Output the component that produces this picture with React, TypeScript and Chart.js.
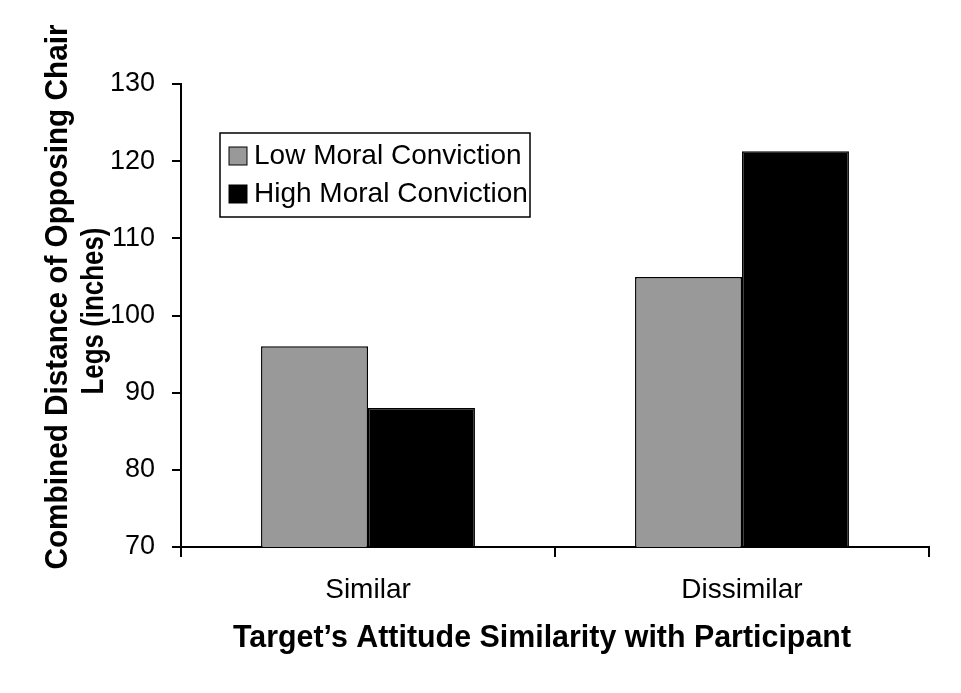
import React, { useEffect, useRef } from "react";
import { Chart, registerables } from "chart.js";

Chart.register(...registerables);

const categories = ["Similar", "Dissimilar"];
const seriesLabels = ["Low Moral Conviction", "High Moral Conviction"];
const lowMoral = [96, 105];
const highMoral = [88, 121.3];
const seriesColors = ["#999999", "#000000"];
const yTitleLines = ["Combined Distance of Opposing Chair", "Legs (inches)"];
const xTitle = "Target\u2019s Attitude Similarity with Participant";
const yMin = 70;
const yMax = 130;
const yStep = 10;

const FAMILY = "'Liberation Sans', Arial, Helvetica, sans-serif";

const overlayPlugin = {
  id: "overlay",
  afterDraw(chart: any) {
    const ctx = chart.ctx as CanvasRenderingContext2D;
    const area = chart.chartArea;
    ctx.save();
    ctx.fillStyle = "#000";
    ctx.font = `bold 32px ${FAMILY}`;
    ctx.textAlign = "center";
    ctx.textBaseline = "middle";
    // Y axis title (two lines, rotated, condensed)
    const yCenters = [297, 311];
    const xs = [58, 94];
    const widths = [545, 167];
    yTitleLines.forEach((line, i) => {
      ctx.save();
      ctx.translate(xs[i], yCenters[i]);
      ctx.rotate(-Math.PI / 2);
      ctx.fillText(line, 0, 0, widths[i]);
      ctx.restore();
    });
    // X axis title
    ctx.font = `bold 31px ${FAMILY}`;
    ctx.fillText(xTitle, 542, 638, 618);
    // Legend box
    const bx = area.left + 39;
    const by = area.top + 49;
    const bw = 310;
    const bh = 84;
    ctx.lineWidth = 1.5;
    ctx.strokeStyle = "#000";
    ctx.fillStyle = "#fff";
    ctx.fillRect(bx, by, bw, bh);
    ctx.strokeRect(bx, by, bw, bh);
    ctx.font = `28px ${FAMILY}`;
    ctx.textAlign = "left";
    chart.data.datasets.forEach((ds: any, i: number) => {
      const rowY = by + 23 + i * 38;
      ctx.fillStyle = ds.backgroundColor;
      ctx.fillRect(bx + 9, rowY - 9, 18, 18);
      ctx.lineWidth = 1;
      ctx.strokeRect(bx + 9, rowY - 9, 18, 18);
      ctx.fillStyle = "#000";
      ctx.fillText(ds.label, bx + 34, rowY);
    });
    ctx.restore();
  },
};

export default function App() {
  const ref = useRef<HTMLCanvasElement | null>(null);
  useEffect(() => {
    document.body.style.margin = "0";
    const canvas = ref.current;
    if (!canvas) return;
    Chart.defaults.font.family = FAMILY;
    Chart.defaults.color = "#000";
    const chart = new Chart(canvas, {
      type: "bar",
      data: {
        labels: categories,
        datasets: [
          {
            label: seriesLabels[0],
            data: lowMoral,
            backgroundColor: seriesColors[0],
            borderColor: "#000",
            borderWidth: 1.5,
            categoryPercentage: 0.572,
            barPercentage: 1,
          },
          {
            label: seriesLabels[1],
            data: highMoral,
            backgroundColor: seriesColors[1],
            borderColor: "#000",
            borderWidth: 1.5,
            categoryPercentage: 0.572,
            barPercentage: 1,
          },
        ],
      },
      options: {
        responsive: false,
        animation: false,
        layout: { padding: { left: 0, right: 32, top: 84, bottom: 37 } },
        plugins: {
          legend: { display: false },
          tooltip: { enabled: false },
        },
        scales: {
          x: {
            grid: {
              display: true,
              drawOnChartArea: false,
              drawTicks: true,
              tickLength: 10,
              color: "#000",
              lineWidth: 2,
              offset: true,
            },
            border: { display: true, color: "#000", width: 2 },
            ticks: { color: "#000", font: { size: 28, family: FAMILY }, padding: 16 },
            title: { display: false, text: xTitle },
            afterFit: (s: any) => {
              s.height = 109;
            },
          },
          y: {
            min: yMin,
            max: yMax,
            grid: {
              display: true,
              drawOnChartArea: false,
              drawTicks: true,
              tickLength: 9,
              color: "#000",
              lineWidth: 2,
            },
            border: { display: true, color: "#000", width: 2 },
            ticks: {
              stepSize: yStep,
              color: "#000",
              font: { size: 27, family: FAMILY },
              padding: 17,
            },
            afterFit: (s: any) => {
              s.width = 181;
            },
          },
        },
      },
      plugins: [overlayPlugin],
    } as any);
    return () => chart.destroy();
  }, []);
  return (
    <div style={{ width: 961, height: 693 }}>
      <canvas ref={ref} width={961} height={693} style={{ display: "block" }} />
    </div>
  );
}
